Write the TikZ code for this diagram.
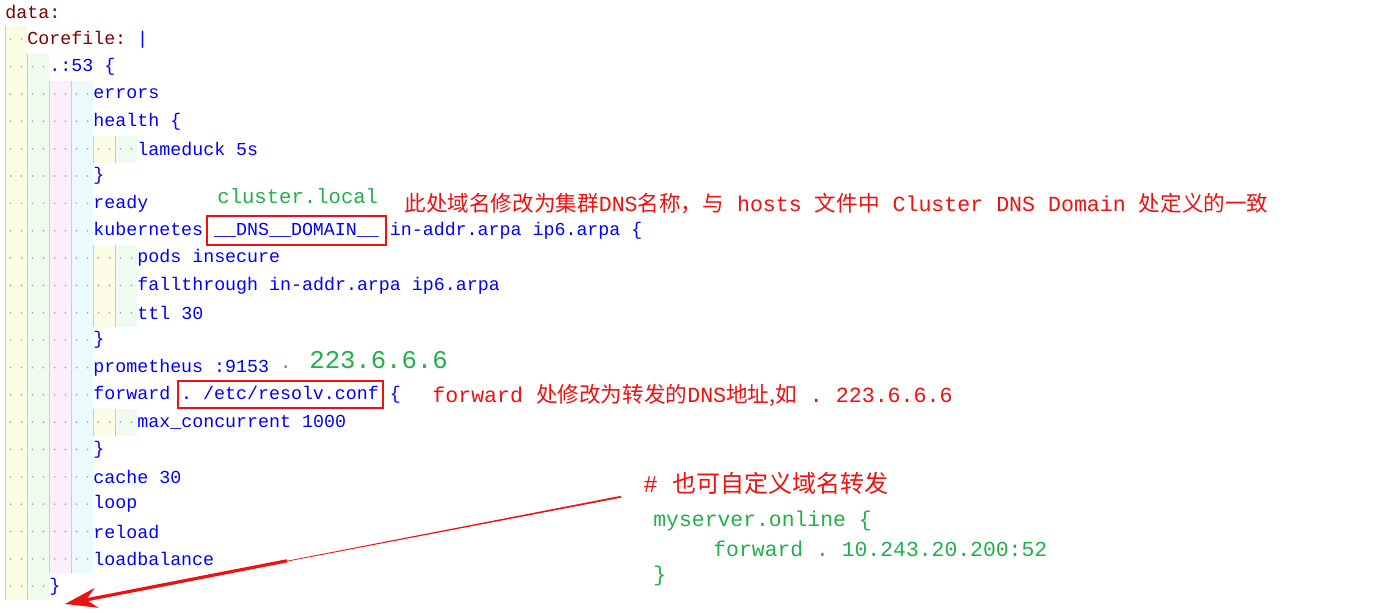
\documentclass[tikz,border=0pt]{standalone}
\usepackage{fontspec}
\setmonofont{Liberation Mono}
\newfontfamily\cjk{Noto Sans CJK SC}
\usetikzlibrary{arrows.meta,calc}
\definecolor{kw}{HTML}{0000FF}
\definecolor{dk}{HTML}{800000}
\definecolor{gr}{HTML}{22B04A}
\definecolor{rd}{HTML}{F01010}
\definecolor{b1}{HTML}{FCFCE6}
\definecolor{b2}{HTML}{EEFBEE}
\definecolor{b3}{HTML}{FCEEFC}
\definecolor{b4}{HTML}{EAFBFC}
\tikzset{
 code/.style={anchor=west,inner sep=0pt,font=\ttfamily\fontsize{9.15}{9}\selectfont,text=kw},
 ann/.style={anchor=west,inner sep=0pt,text=rd,font=\ttfamily\fontsize{10.8}{10}\selectfont},
 gann/.style={anchor=west,inner sep=0pt,text=gr,font=\ttfamily\fontsize{10.3}{10}\selectfont},
 hl/.style={draw=rd,line width=1pt}
}
\begin{document}
\begin{tikzpicture}[x=0.5pt,y=-0.5pt]
\useasboundingbox[fill=white] (0,0) rectangle (1382,613);
\foreach \xa/\col/\la/\lb in {5/b1/2/22,27/b2/3/22,49/b3/4/21,71/b4/4/21}{
  \fill[\col] (\xa,{\la*27.35-28.5}) rectangle (\xa+22,{\lb*27.35-1.5});
  \draw[gray!40,line width=0.4pt] (\xa,{\la*27.35-28.5}) -- (\xa,{\lb*27.35-1.5});
}
\foreach \la/\lb in {6/6,10/12,16/16}{
  \fill[b1] (93,{\la*27.35-28.5}) rectangle (115,{\lb*27.35-1.5});
  \fill[b2] (115,{\la*27.35-28.5}) rectangle (137,{\lb*27.35-1.5});
  \draw[gray!40,line width=0.4pt] (93,{\la*27.35-28.5}) -- (93,{\lb*27.35-1.5});
  \draw[gray!40,line width=0.4pt] (115,{\la*27.35-28.5}) -- (115,{\lb*27.35-1.5});
}
\foreach \l/\n in {2/2,3/4,4/8,5/8,6/12,7/8,8/8,9/8,10/12,11/12,12/12,13/8,14/8,15/8,16/12,17/8,18/8,19/8,20/8,21/8,22/4}{
  \foreach \k in {1,...,\n}{
    \fill[gray!55] ({5+(\k-1)*11+5.5},{\l*27.35-15.4}) circle (1.1);
  }
}
\node[code,text=dk] (l1) at (5,12) {data:};
\node[code,text=dk] (l2) at (27,39.3) {Corefile: \textcolor{kw}{|}};
\node[code] (l3) at (49,66.6) {.:53 \{};
\node[code] (l4) at (93,94) {errors};
\node[code] (l5) at (93,121.3) {health \{};
\node[code] (l6) at (137,148.7) {lameduck 5s};
\node[code] (l7) at (93,176) {\}};
\node[code] (l8) at (93,203.4) {ready};
\node[code] (l9) at (93,230.7) {kubernetes \_\_DNS\_\_DOMAIN\_\_ in-addr.arpa ip6.arpa \{};
\node[code] (l10) at (137,258) {pods insecure};
\node[code] (l11) at (137,285.4) {fallthrough in-addr.arpa ip6.arpa};
\node[code] (l12) at (137,312.8) {ttl 30};
\node[code] (l13) at (93,340.1) {\}};
\node[code] (l14) at (93,367.5) {prometheus :9153};
\node[code] (l15) at (93,394.8) {forward . /etc/resolv.conf \{};
\node[code] (l16) at (137,422.2) {max\_concurrent 1000};
\node[code] (l17) at (93,449.5) {\}};
\node[code] (l18) at (93,476.9) {cache 30};
\node[code] (l19) at (93,504.2) {loop};
\node[code] (l20) at (93,531.6) {reload};
\node[code] (l21) at (93,558.9) {loadbalance};
\node[code] (l22) at (49,586.3) {\}};
\draw[hl] (207,216) rectangle (386,245);
\draw[hl] (178,381) rectangle (383,408);
\node[gann] (cl) at (217,196) {cluster.local};
\node[ann] (a1) at (404,204) {{\cjk 此处域名修改为集群}DNS{\cjk 名称，与} hosts {\cjk 文件中} Cluster DNS Domain {\cjk 处定义的一致}};
\node[anchor=west,inner sep=0pt,text=gr,font=\ttfamily\fontsize{9}{9}\selectfont] (dot) at (280,367.5) {.};
\node[gann,font=\ttfamily\fontsize{12.8}{12}\selectfont] (ip) at (309,360) {223.6.6.6};
\node[ann] (a2) at (432,395) {forward {\cjk 处修改为转发的}DNS{\cjk 地址,如} . 223.6.6.6};
\node[ann,font=\fontsize{12}{12}\selectfont] (a3) at (643,483) {\ttfamily\# {\cjk 也可自定义域名转发}};
\node[gann,font=\ttfamily\fontsize{10.7}{10}\selectfont] (g1) at (653,521) {myserver.online \{};
\node[gann,font=\ttfamily\fontsize{10.7}{10}\selectfont] (g2) at (713,549) {forward . 10.243.20.200:52};
\node[gann,font=\ttfamily\fontsize{10.7}{10}\selectfont] (g3) at (653,576) {\}};
\coordinate (as) at (620,496);
\coordinate (ae) at (65,604);
\fill[rd] (as) -- (ae) -- (622,497.5) -- cycle;
\draw[rd,line width=1.6pt,-{Stealth[length=16pt,width=10pt]}] ($ (as)!0.6!(ae) $) -- (ae);
\end{tikzpicture}
\end{document}
